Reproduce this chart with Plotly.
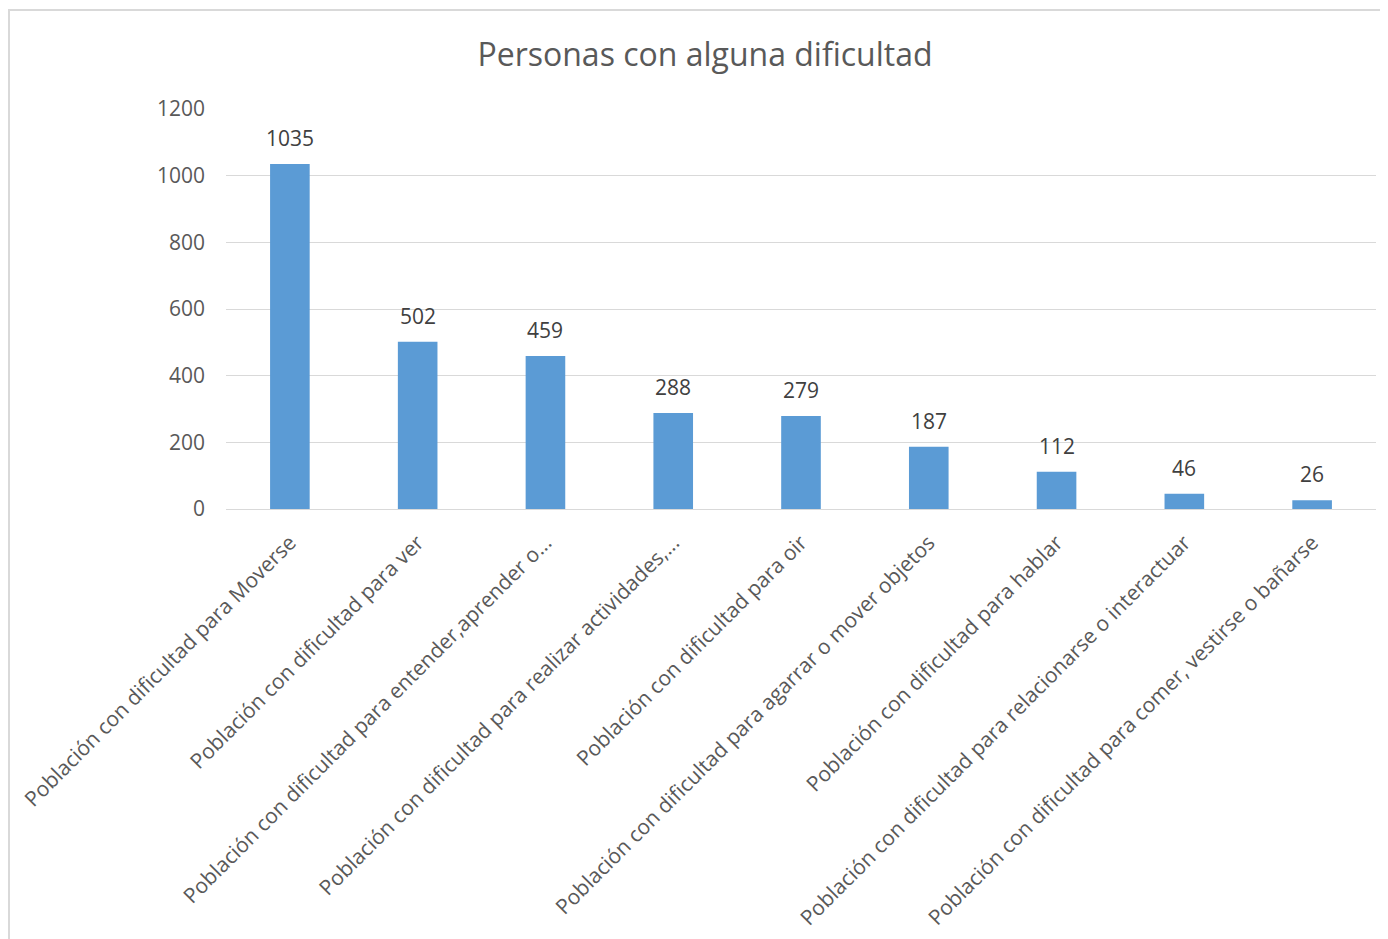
import plotly.graph_objects as go

categories = [
    "Población con dificultad para Moverse",
    "Población con dificultad para ver",
    "Población con dificultad para entender,aprender o...",
    "Población con dificultad para realizar actividades,...",
    "Población con dificultad para oir",
    "Población con dificultad para agarrar o mover objetos",
    "Población con dificultad para hablar",
    "Población con dificultad para relacionarse o interactuar",
    "Población con dificultad para comer, vestirse o bañarse",
]
values = [1035, 502, 459, 288, 279, 187, 112, 46, 26]
y_ticks = [0, 200, 400, 600, 800, 1000, 1200]
title_text = "Personas con alguna dificultad"

FONT = "Open Sans"
TXT = "#595959"

# page has an 8px body margin; figure coordinates are page - 8
W, H = 1380, 931
L, T = 218, 101
PR, PB = 1368, 501
R, B = W - PR, H - PB
pw, ph = PR - L, PB - T

def px2x(px):
    return (px - L) / pw

def py2y(py):
    return (PB - py) / ph

fig = go.Figure()
fig.add_trace(go.Bar(
    x=categories, y=values,
    marker=dict(color="#5B9BD5", line=dict(width=0)),
    cliponaxis=False,
    hoverinfo="x+y",
))

annotations = [
    dict(x=c, y=v, xref="x", yref="y", text=str(v), showarrow=False,
         yanchor="bottom", xanchor="center", yshift=10,
         font=dict(family=FONT, size=21, color="#404040"))
    for c, v in zip(categories, values)
]

fig.update_layout(
    width=W, height=H,
    margin=dict(l=L, r=R, t=T, b=B, autoexpand=False),
    paper_bgcolor="white", plot_bgcolor="white",
    bargap=0.69,
    showlegend=False,
    title=dict(text=title_text, x=697 / W, xanchor="center", xref="container",
               y=1 - 47 / H, yanchor="middle", yref="container",
               font=dict(family=FONT, size=32, color=TXT)),
    font=dict(family=FONT, color=TXT),
    annotations=annotations,
    xaxis=dict(
        tickangle=-45, tickfont=dict(family=FONT, size=21, color=TXT),
        showline=True, linecolor="#D9D9D9", linewidth=1,
        showgrid=False, ticks="", ticklabelstandoff=12,
        automargin=False,
    ),
    yaxis=dict(
        range=[0, 1200], tickvals=y_ticks,
        tickfont=dict(family=FONT, size=21, color=TXT),
        showgrid=True, gridcolor="#D9D9D9", gridwidth=1,
        zeroline=False, showline=False, ticks="",
        ticklabelstandoff=20, automargin=False,
    ),
    shapes=[
        dict(type="line", xref="paper", yref="paper",
             x0=px2x(1), x1=px2x(1), y0=py2y(2), y1=py2y(H),
             line=dict(color="#D9D9D9", width=2)),
        dict(type="line", xref="paper", yref="paper",
             x0=px2x(0), x1=px2x(W), y0=py2y(2), y1=py2y(2),
             line=dict(color="#D9D9D9", width=2)),
    ],
)

fig.write_html("out.html")
